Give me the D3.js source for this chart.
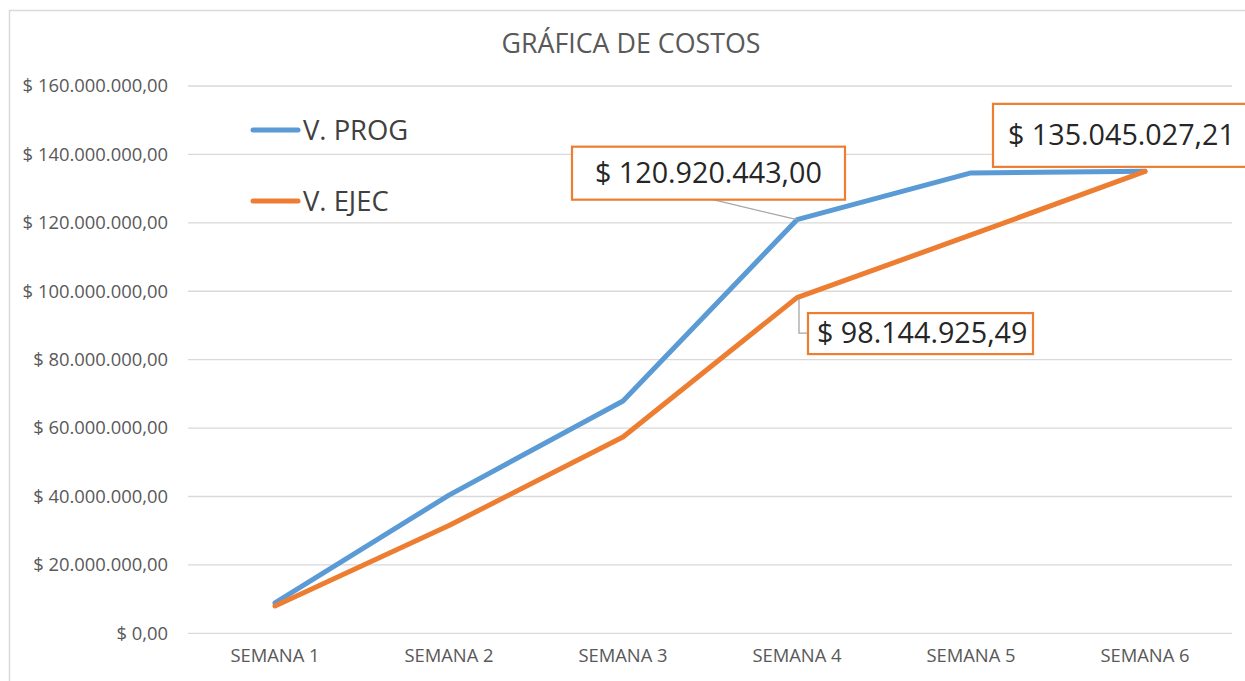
<!DOCTYPE html>
<meta charset="utf-8" />
<head>
  <style>
    body {
      margin: 0;
      background: #fff;
    }
    svg text {
      font-family: "Open Sans", sans-serif;
    }
    .grid line {
      stroke: #d9d9d9;
      stroke-width: 1.3;
    }
    .domain {
      display: none;
    }
    .tick line {
      display: none;
    }
  </style>
</head>
<script src="https://d3js.org/d3.v7.min.js"></script>
<body>
  <div id="chart"></div>
  <script>
    // data
    const weeks = ["SEMANA 1", "SEMANA 2", "SEMANA 3", "SEMANA 4", "SEMANA 5", "SEMANA 6"];
    const vProg = [8860000, 40400000, 67900000, 120920443.0, 134600000, 135045027.21];
    const vEjec = [8000000, 31500000, 57400000, 98144925.49, 116450000, 135045027.21];
    const yTicks = [0, 20000000, 40000000, 60000000, 80000000, 100000000, 120000000, 140000000, 160000000];
    const seriesNames = ["V. PROG", "V. EJEC"];
    const colors = ["#5b9bd5", "#ed7d31"];

    const W = 1245, H = 681;
    const plot = { left: 188, right: 1232, top: 86, bottom: 633.3 };

    const svg = d3.select("#chart").append("svg")
      .attr("width", W).attr("height", H);

    // chart area border
    svg.append("rect")
      .attr("x", 9.5).attr("y", 10.5)
      .attr("width", W + 20).attr("height", H + 20)
      .attr("fill", "none").attr("stroke", "#d9d9d9").attr("stroke-width", 1.5);

    // money format: $ 160.000.000,00
    const locale = d3.formatLocale({
      decimal: ",", thousands: ".", grouping: [3], currency: ["$ ", ""]
    });
    const money = locale.format("$,.2f");

    const x = d3.scaleBand().domain(weeks).range([plot.left, plot.right]);
    const cx = (d) => x(d) + x.bandwidth() / 2;
    const y = d3.scaleLinear().domain([0, 160000000]).range([plot.bottom, plot.top]);

    // gridlines
    svg.append("g").attr("class", "grid")
      .selectAll("line").data(yTicks).join("line")
      .attr("x1", plot.left).attr("x2", plot.right)
      .attr("y1", (d) => y(d)).attr("y2", (d) => y(d));

    // y axis
    const yAxis = svg.append("g")
      .attr("transform", `translate(${plot.left},0)`)
      .call(d3.axisLeft(y).tickValues(yTicks).tickFormat(money).tickSize(0).tickPadding(20));
    yAxis.selectAll("text")
      .attr("fill", "#595959").attr("font-size", "18.4px");

    // x axis
    const xAxis = svg.append("g")
      .attr("transform", `translate(0,${plot.bottom})`)
      .call(d3.axisBottom(x).tickSize(0).tickPadding(16));
    xAxis.selectAll("text")
      .attr("fill", "#595959").attr("font-size", "18.4px");

    // title
    svg.append("text")
      .attr("x", 631).attr("y", 53)
      .attr("text-anchor", "middle")
      .attr("fill", "#595959").attr("font-size", "26.8px")
      .text("GRÁFICA DE COSTOS");

    // lines
    const line = d3.line()
      .x((d, i) => cx(weeks[i]))
      .y((d) => y(d));

    [vProg, vEjec].forEach((vals, k) => {
      svg.append("path")
        .datum(vals)
        .attr("d", line)
        .attr("fill", "none")
        .attr("stroke", colors[k])
        .attr("stroke-width", 5)
        .attr("stroke-linejoin", "round")
        .attr("stroke-linecap", "round");
    });

    // legend
    const legend = svg.append("g");
    seriesNames.forEach((name, k) => {
      const ly = 130 + k * 71;
      legend.append("line")
        .attr("x1", 253).attr("x2", 298).attr("y1", ly).attr("y2", ly)
        .attr("stroke", colors[k]).attr("stroke-width", 5).attr("stroke-linecap", "round");
      legend.append("text")
        .attr("x", 303).attr("y", ly + 9.5)
        .attr("fill", "#404040").attr("font-size", "27.4px")
        .text(name);
    });

    // data labels (box placement relative to the point)
    const labels = [
      { vals: vProg, i: 3, bx: -225, by: -73, bw: 273, bh: 53, pad: 23, base: 36,
        leader: [[-84, -20], [0, 0]] },
      { vals: vEjec, i: 3, bx: 11, by: 15.5, bw: 225, bh: 41, pad: 9, base: 30,
        leader: [[2, 1.5], [2, 35.5], [11, 35.5]] },
      { vals: vEjec, i: 5, bx: -152, by: -67.5, bw: 262, bh: 63, pad: 15, base: 41,
        leader: null }
    ];

    labels.forEach((lb) => {
      const px = cx(weeks[lb.i]);
      const py = y(lb.vals[lb.i]);
      if (lb.leader) {
        svg.append("path")
          .attr("d", d3.line()(lb.leader.map((p) => [px + p[0], py + p[1]])))
          .attr("fill", "none").attr("stroke", "#a6a6a6").attr("stroke-width", 1.3);
      }
      svg.append("rect")
        .attr("x", px + lb.bx).attr("y", py + lb.by)
        .attr("width", lb.bw).attr("height", lb.bh)
        .attr("fill", "#fff").attr("stroke", colors[1]).attr("stroke-width", 2.2);
      svg.append("text")
        .attr("x", px + lb.bx + lb.pad).attr("y", py + lb.by + lb.base)
        .attr("fill", "#262626").attr("font-size", "28.7px")
        .text(money(lb.vals[lb.i]));
    });
  </script>
</body>
